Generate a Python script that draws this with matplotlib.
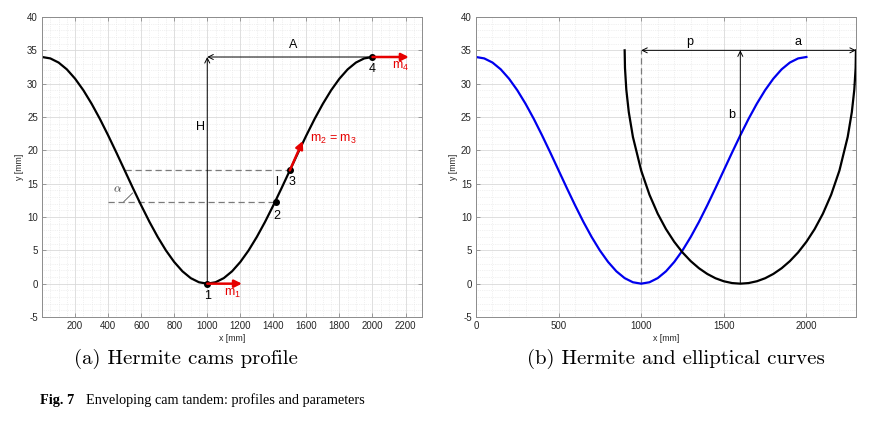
# Enveloping cam tandem: Hermite profile (a) and Hermite + elliptical curves (b).

import matplotlib
matplotlib.use("Agg")
import matplotlib.pyplot as plt
from matplotlib.ticker import MultipleLocator

plt.rcParams["axes.unicode_minus"] = False
plt.rcParams["font.family"] = ["Liberation Sans", "DejaVu Sans"]
plt.rcParams["mathtext.fontset"] = "custom"
plt.rcParams["mathtext.rm"] = "Liberation Sans"
plt.rcParams["mathtext.it"] = "Liberation Sans:italic"

# Hermite cam profile (x [mm], y [mm])
HERM_X = [0, 50, 100, 150, 200, 250, 300, 350, 400, 450, 500,
          550, 600, 650, 700, 750, 800, 850, 900, 950, 1000,
          1050, 1100, 1150, 1200, 1250, 1300, 1350, 1400, 1450, 1500,
          1550, 1600, 1650, 1700, 1750, 1800, 1850, 1900, 1950, 2000]
HERM_Y = [34.0, 33.79, 33.17, 32.15, 30.75, 29.02, 26.99, 24.72, 22.25, 19.66, 17.0,
          14.34, 11.75, 9.28, 7.01, 4.98, 3.25, 1.85, 0.83, 0.21, 0.0,
          0.21, 0.83, 1.85, 3.25, 4.98, 7.01, 9.28, 11.75, 14.34, 17.0,
          19.66, 22.25, 24.72, 26.99, 29.02, 30.75, 32.15, 33.17, 33.79, 34.0]

# Elliptical curve (panel b)
ELL_X = [900, 902, 910, 925, 950, 1000, 1050, 1100, 1150, 1200, 1250, 1300, 1350,
         1400, 1450, 1500, 1550, 1600, 1650, 1700, 1750, 1800, 1850, 1900, 1950,
         2000, 2050, 2100, 2150, 2200, 2250, 2275, 2290, 2298, 2300]
ELL_Y = [35.0, 32.35, 29.1, 25.73, 22.01, 16.97, 13.35, 10.5, 8.19, 6.28, 4.69, 3.38, 2.31,
         1.46, 0.81, 0.36, 0.09, 0.0, 0.09, 0.36, 0.81, 1.46, 2.31, 3.38, 4.69,
         6.28, 8.19, 10.5, 13.35, 16.97, 22.01, 25.73, 29.1, 32.35, 35.0]

# key points 1..4
PT_X = [1000, 1414, 1500, 2000]
PT_Y = [0.0, 12.3, 17.0, 34.0]
PT_LABELS = ["1", "2", "3", "4"]

# dashed construction lines (panel a)
DASH_Y = [17.0, 12.3]
DASH_X0 = [500, 400]
DASH_X1 = [1500, 1414]

# red tangent vectors
M_X0 = [1000, 1500, 2000]
M_Y0 = [0.0, 17.0, 34.0]
M_X1 = [1210, 1578, 2220]
M_Y1 = [0.0, 21.4, 34.0]

GRID_MAJOR = "#d9d9d9"
GRID_MINOR = "#e3e3e3"
SPINE = "#8c8c8c"
TICK_TXT = "#262626"


def style_axes(ax, xminor, xticks):
    ax.set_xlim(0, 2300)
    ax.set_ylim(-5, 40)
    ax.set_xticks(xticks)
    ax.yaxis.set_major_locator(MultipleLocator(5))
    ax.xaxis.set_minor_locator(MultipleLocator(xminor))
    ax.yaxis.set_minor_locator(MultipleLocator(1))
    ax.grid(True, which="major", color=GRID_MAJOR, lw=0.6, ls="-")
    ax.grid(True, which="minor", color=GRID_MINOR, lw=0.5, ls=":")
    ax.set_axisbelow(True)
    for s in ax.spines.values():
        s.set_color(SPINE)
        s.set_linewidth(0.7)
    ax.tick_params(which="major", direction="in", length=3, width=0.6,
                   color=SPINE, labelsize=7, labelcolor=TICK_TXT,
                   top=True, right=True, pad=3)
    ax.tick_params(which="minor", length=0, top=True, right=True)
    ax.set_xlabel("x [mm]", fontsize=6.3, color=TICK_TXT, labelpad=2)
    ax.set_ylabel("y [mm]", fontsize=6.3, color=TICK_TXT, labelpad=2)


fig = plt.figure(figsize=(8.87, 4.23), dpi=100)
ax1 = fig.add_axes([0.0474, 0.2506, 0.4284, 0.7092])
ax2 = fig.add_axes([0.5366, 0.2506, 0.4284, 0.7092])

# ---- (a) Hermite cams profile
style_axes(ax1, 50, [200, 400, 600, 800, 1000, 1200, 1400, 1600, 1800, 2000, 2200])

for y, x0, x1 in zip(DASH_Y, DASH_X0, DASH_X1):
    ax1.plot([x0, x1], [y, y], color="#7a7a7a", lw=0.9, ls=(0, (5, 3)))

ax1.plot(HERM_X, HERM_Y, color="black", lw=1.6)

thin = dict(arrowstyle="->", color="black", lw=0.7, shrinkA=0, shrinkB=0, mutation_scale=9)
ax1.annotate("", xy=(PT_X[0], PT_Y[3]), xytext=(PT_X[0], PT_Y[0]), arrowprops=thin)
ax1.annotate("", xy=(PT_X[0], PT_Y[3]), xytext=(PT_X[3], PT_Y[3]), arrowprops=thin)
ax1.text(960, 23.5, "H", fontsize=9, ha="center", va="center")
ax1.text(1520, 35.8, "A", fontsize=9, ha="center", va="center")

# angle mark
ax1.plot([495, 548], [12.3, 13.6], color="#555555", lw=0.6)
ax1.text(455, 14.2, r"$\alpha$", fontsize=8.5, ha="center", va="center",
         math_fontfamily="cm", color="#333333")

red = dict(arrowstyle="-|>", color="#e60000", lw=1.8, shrinkA=0, shrinkB=0, mutation_scale=11)
for x0, y0, x1, y1 in zip(M_X0, M_Y0, M_X1, M_Y1):
    ax1.annotate("", xy=(x1, y1), xytext=(x0, y0), arrowprops=red)

ax1.plot(PT_X, PT_Y, "o", color="black", ms=4)
lab_off = [(0, -1.8), (5, -2.2), (15, -1.8), (0, -1.8)]
for x, y, t, (dx, dy) in zip(PT_X, PT_Y, PT_LABELS, lab_off):
    ax1.text(x + dx, y + dy, t, fontsize=9, ha="center", va="center")
ax1.text(1418, 15.2, "l", fontsize=9, ha="center", va="center")

ax1.text(1100, -1.5, r"m$_1$", fontsize=9, color="#e60000", va="center")
ax1.text(2120, 32.6, r"m$_4$", fontsize=9, color="#e60000", va="center")
ax1.text(1620, 21.6, r"m$_2$ = m$_3$", fontsize=9, color="#e60000", va="center")

# ---- (b) Hermite and elliptical curves
style_axes(ax2, 100, [0, 500, 1000, 1500, 2000])

ax2.plot([1000, 1000], [0, 35], color="#7a7a7a", lw=0.9, ls=(0, (5, 3)))
ax2.plot(HERM_X, HERM_Y, color="#0000ee", lw=1.6)
ax2.plot(ELL_X, ELL_Y, color="black", lw=1.6)

ax2.annotate("", xy=(1000, 35), xytext=(1600, 35), arrowprops=thin)
ax2.annotate("", xy=(2300, 35), xytext=(1600, 35), arrowprops=thin)
ax2.annotate("", xy=(1600, 35), xytext=(1600, 0), arrowprops=thin)
ax2.text(1295, 36.3, "p", fontsize=9, ha="center", va="center")
ax2.text(1950, 36.3, "a", fontsize=9, ha="center", va="center")
ax2.text(1545, 25.3, "b", fontsize=9, ha="center", va="center")

# captions
fig.text(186 / 887, 1 - 359 / 423, "(a) Hermite cams profile", family="cmr10",
         fontsize=15, ha="center", va="center")
fig.text(676 / 887, 1 - 359 / 423, "(b) Hermite and elliptical curves", family="cmr10",
         fontsize=15, ha="center", va="center")
fig.text(40 / 887, 1 - 400 / 423, "Fig. 7", family="Liberation Serif", fontweight="bold",
         fontsize=10.3, ha="left", va="center")
fig.text(86 / 887, 1 - 400 / 423, "Enveloping cam tandem: profiles and parameters",
         family="Liberation Serif", fontsize=10.3, ha="left", va="center")

fig.savefig("out.png", dpi=100, facecolor="white")
plt.close(fig)
